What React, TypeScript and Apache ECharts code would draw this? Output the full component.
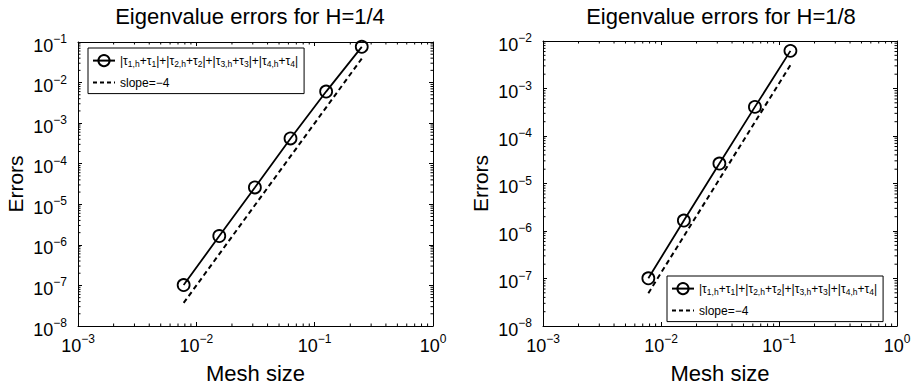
import React, { useEffect, useRef } from 'react';
import * as echarts from 'echarts';

const FONT = '"Liberation Sans", Arial, Helvetica, sans-serif';

const TAU_NAME = '|τ1,h+τ1|+|τ2,h+τ2|+|τ3,h+τ3|+|τ4,h+τ4|';
const SLOPE_NAME = 'slope=−4';
const titles = ['Eigenvalue errors for H=1/4', 'Eigenvalue errors for H=1/8'];
const xName = 'Mesh size';
const yName = 'Errors';

// Left panel (H = 1/4)
const meshLeft = [0.0078125, 0.015625, 0.03125, 0.0625, 0.125, 0.25];
const errLeft = [1.02e-7, 1.65e-6, 2.6e-5, 4.2e-4, 6.0e-3, 7.6e-2];
const slopeMeshLeft = [0.0078125, 0.25];
const slopeLeft = [3.7e-8, 3.9e-2];

// Right panel (H = 1/8)
const meshRight = [0.0078125, 0.015625, 0.03125, 0.0625, 0.125];
const errRight = [1.01e-7, 1.66e-6, 2.63e-5, 4.1e-4, 6.2e-3];
const slopeMeshRight = [0.0078125, 0.125];
const slopeRight = [4.9e-8, 3.1e-3];

const xRange = [1e-3, 1];
const yRangeLeft = [1e-8, 1e-1];
const yRangeRight = [1e-8, 1e-2];

const minorTicks = (lo: number, hi: number) => {
  const out: number[] = [];
  const e0 = Math.round(Math.log10(lo));
  const e1 = Math.round(Math.log10(hi));
  for (let e = e0; e < e1; e++) for (let k = 2; k <= 9; k++) out.push(k * Math.pow(10, e));
  return out;
};

const supLabel = (v: number) => {
  const e = Math.round(Math.log10(v));
  return `{b|10}{s|${e < 0 ? '−' + -e : e}}`;
};

const labelRich = {
  b: { fontSize: 18, fontFamily: FONT, color: '#000', lineHeight: 18, padding: [7, 0, 0, 0] },
  s: { fontSize: 12, fontFamily: FONT, color: '#000', lineHeight: 12, verticalAlign: 'top' },
};

const tauRich = () => {
  let s = '';
  for (let i = 1; i <= 4; i++) {
    s += `{m|${i > 1 ? '+' : ''}|τ}{s|${i},h}{m|+τ}{s|${i}}{m||}`;
  }
  return s;
};

const grids = [
  { left: 78, top: 42, width: 355, height: 286 },
  { left: 543, top: 41, width: 354, height: 287 },
];
const titleCenters = [250, 721];

function buildOption() {
  const yRanges = [yRangeLeft, yRangeRight];
  const xAxis: any[] = [];
  const yAxis: any[] = [];
  const series: any[] = [];
  const axisLine = { show: true, lineStyle: { color: '#000', width: 1 } };
  const tick = { show: true, inside: true, length: 4, lineStyle: { color: '#000', width: 1 } };

  for (let g = 0; g < 2; g++) {
    const yr = yRanges[g];
    xAxis.push({
      type: 'log', logBase: 10, gridIndex: g, position: 'bottom', min: xRange[0], max: xRange[1],
      axisLine, axisTick: tick, splitLine: { show: false },
      axisLabel: { interval: 0, formatter: supLabel, rich: labelRich, margin: 7, showMinLabel: true, showMaxLabel: true },
      name: xName, nameLocation: 'middle', nameGap: 36,
      nameTextStyle: { fontSize: 22, fontFamily: FONT, color: '#000' },
    });
    xAxis.push({
      type: 'log', logBase: 10, gridIndex: g, position: 'top', min: xRange[0], max: xRange[1],
      axisLine, axisTick: tick, splitLine: { show: false }, axisLabel: { show: false },
    });
    yAxis.push({
      type: 'log', logBase: 10, gridIndex: g, position: 'left', min: yr[0], max: yr[1],
      axisLine, axisTick: tick, splitLine: { show: false },
      axisLabel: { interval: 0, formatter: supLabel, rich: labelRich, margin: 11, showMinLabel: true, showMaxLabel: true },
      name: yName, nameLocation: 'middle', nameGap: 52,
      nameTextStyle: { fontSize: 21, fontFamily: FONT, color: '#000' },
    });
    yAxis.push({
      type: 'log', logBase: 10, gridIndex: g, position: 'right', min: yr[0], max: yr[1],
      axisLine, axisTick: tick, splitLine: { show: false }, axisLabel: { show: false },
    });

    const mesh = g === 0 ? meshLeft : meshRight;
    const err = g === 0 ? errLeft : errRight;
    const sMesh = g === 0 ? slopeMeshLeft : slopeMeshRight;
    const sVal = g === 0 ? slopeLeft : slopeRight;

    series.push({
      name: SLOPE_NAME, type: 'line', xAxisIndex: 2 * g, yAxisIndex: 2 * g,
      data: sMesh.map((h, i) => [h, sVal[i]]), symbol: 'circle', showSymbol: false, symbolSize: 0, z: 2, clip: false,
      lineStyle: { color: '#000', width: 2, type: [5, 3.5] },
      itemStyle: { color: 'rgba(0,0,0,0)', borderWidth: 0 },
    });
    series.push({
      name: TAU_NAME, type: 'line', xAxisIndex: 2 * g, yAxisIndex: 2 * g,
      data: mesh.map((h, i) => [h, err[i]]), symbol: 'circle', symbolSize: 12, z: 3, clip: false,
      lineStyle: { color: '#000', width: 1.8 },
      itemStyle: { color: 'rgba(0,0,0,0)', borderColor: '#000', borderWidth: 1.8 },
    });
    series.push({
      name: 'minorX' + g, type: 'custom', xAxisIndex: 2 * g, yAxisIndex: 2 * g, silent: true, clip: false,
      data: minorTicks(xRange[0], xRange[1]).map((v) => [v, yr[0]]),
      renderItem: (params: any, api: any) => {
        const cs = params.coordSys;
        const p = api.coord([api.value(0), api.value(1)]);
        const b = cs.y + cs.height;
        return {
          type: 'group',
          children: [
            { type: 'line', shape: { x1: p[0], y1: b, x2: p[0], y2: b - 2.5 }, style: { stroke: '#000', lineWidth: 1 } },
            { type: 'line', shape: { x1: p[0], y1: cs.y, x2: p[0], y2: cs.y + 2.5 }, style: { stroke: '#000', lineWidth: 1 } },
          ],
        };
      },
    });
    series.push({
      name: 'minorY' + g, type: 'custom', xAxisIndex: 2 * g, yAxisIndex: 2 * g, silent: true, clip: false,
      data: minorTicks(yr[0], yr[1]).map((v) => [xRange[0], v]),
      renderItem: (params: any, api: any) => {
        const cs = params.coordSys;
        const p = api.coord([api.value(0), api.value(1)]);
        const r = cs.x + cs.width;
        return {
          type: 'group',
          children: [
            { type: 'line', shape: { x1: cs.x, y1: p[1], x2: cs.x + 2.5, y2: p[1] }, style: { stroke: '#000', lineWidth: 1 } },
            { type: 'line', shape: { x1: r, y1: p[1], x2: r - 2.5, y2: p[1] }, style: { stroke: '#000', lineWidth: 1 } },
          ],
        };
      },
    });
  }

  const legendCommon = {
    data: [
      { name: TAU_NAME },
      {
        name: SLOPE_NAME,
        itemStyle: { color: 'rgba(0,0,0,0)', borderWidth: 0, borderColor: 'rgba(0,0,0,0)' },
        lineStyle: { color: '#000', width: 2, type: [4, 3] },
      },
    ],
    orient: 'vertical',
    backgroundColor: '#fff',
    borderColor: '#000',
    borderWidth: 1,
    borderRadius: 0,
    padding: [6, 6, 5, 4],
    itemGap: 8,
    itemWidth: 22,
    itemHeight: 14,
    selectedMode: false,
    formatter: (name: string) => (name === TAU_NAME ? tauRich() : name),
    textStyle: {
      fontSize: 12, fontFamily: FONT, color: '#000',
      rich: {
        m: { fontSize: 12, fontFamily: FONT, color: '#000', lineHeight: 16 },
        s: { fontSize: 8.5, fontFamily: FONT, color: '#000', lineHeight: 9, verticalAlign: 'bottom' },
      },
    },
  };

  return {
    animation: false,
    backgroundColor: '#fff',
    legend: [
      { ...legendCommon, left: 88, top: 48 },
      { ...legendCommon, left: 667, top: 276 },
    ],
    graphic: titles.map((t, i) => ({
      type: 'text',
      x: titleCenters[i],
      y: 16,
      silent: true,
      style: {
        text: t,
        fill: '#000',
        fontSize: 22,
        fontFamily: FONT,
        align: 'center',
        verticalAlign: 'middle',
      },
    })),
    grid: grids,
    xAxis,
    yAxis,
    series,
  };
}

export default function App() {
  const ref = useRef<HTMLDivElement>(null);
  useEffect(() => {
    if (!ref.current) return;
    const chart = echarts.init(ref.current, undefined, { renderer: 'svg' });
    chart.setOption(buildOption() as any);
    return () => chart.dispose();
  }, []);
  return (
    <div
      ref={ref}
      style={{ position: 'fixed', left: 0, top: 0, width: 915, height: 389, background: '#fff' }}
    />
  );
}
